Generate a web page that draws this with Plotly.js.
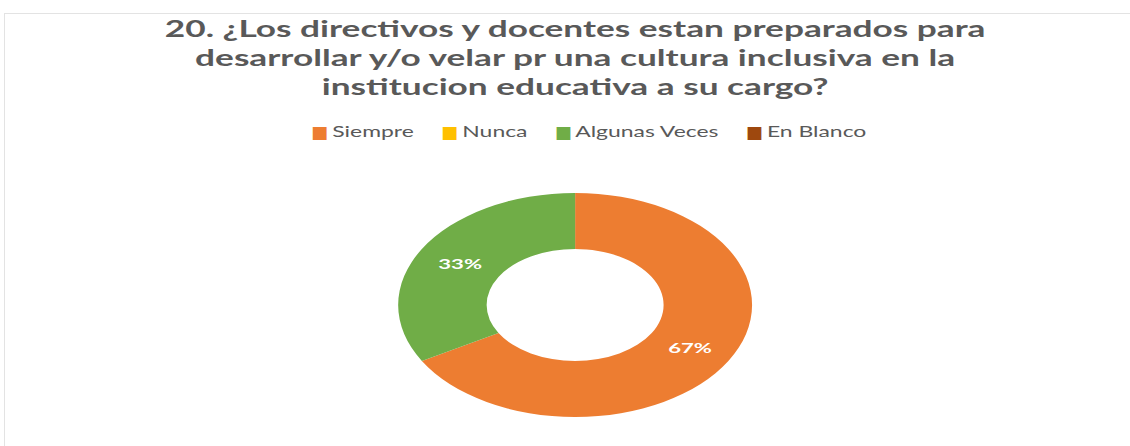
<!DOCTYPE html>
<html>
<head>
<meta charset="utf-8">
<script src="https://cdn.plot.ly/plotly-3.0.1.min.js"></script>
<style>
  html, body { margin: 0; padding: 0; background: #fff; overflow: hidden; width: 1130px; height: 446px; }
  #frame { position: absolute; left: 4px; top: 13px; width: 1400px; height: 600px; border: 1px solid #e3e3e3; }
  #wrap { position: absolute; left: 0; top: 0; width: 728px; height: 446px; transform: scaleX(1.58); transform-origin: 0 0; }
  #chart { width: 728px; height: 446px; }
</style>
</head>
<body>
<div id="frame"></div>
<div id="wrap"><div id="chart"></div></div>
<script>
const categories = ['Siempre', 'Nunca', 'Algunas Veces', 'En Blanco'];
const values = [2, 0, 1, 0];
const colors = ['#ED7D31', '#FFC000', '#70AD47', '#9E480E'];
const titleText = '20. ¿Los directivos y docentes estan preparados para<br>desarrollar y/o velar pr una cultura inclusiva en la<br>institucion educativa a su cargo?';

const templates = values.map(v => v > 0 ? '%{percent:.0%}' : '');

const trace = {
  type: 'pie',
  labels: categories,
  values: values,
  hole: 0.5,
  sort: false,
  direction: 'clockwise',
  rotation: 0,
  marker: { colors: colors, line: { color: '#ffffff', width: 0 } },
  texttemplate: templates,
  textposition: 'inside',
  insidetextorientation: 'horizontal',
  textfont: { color: '#ffffff', size: 14, family: 'Lato, sans-serif', weight: 'bold' },
  domain: { x: [0, 1], y: [1 - 417 / 446, 1 - 193 / 446] },
  hoverinfo: 'label+percent',
  showlegend: false
};

// custom legend built from the category/colour arrays (compact swatch-text spacing)
const legendText = categories.map((c, i) =>
  '<span style="color:' + colors[i] + ';font-size:11px;font-family:DejaVu Sans">█</span> ' + c
).join('\u00a0\u00a0\u00a0\u00a0\u00a0');

const layout = {
  width: 728,
  height: 446,
  margin: { l: 0, r: 0, t: 0, b: 0 },
  paper_bgcolor: 'rgba(0,0,0,0)',
  plot_bgcolor: 'rgba(0,0,0,0)',
  title: {
    text: titleText,
    x: 0.5,
    xanchor: 'center',
    y: 1 - 37 / 446,
    yanchor: 'middle',
    yref: 'container',
    font: { family: 'Lato, sans-serif', size: 22.3, color: '#595959', weight: 'bold' }
  },
  annotations: [{
    text: legendText,
    showarrow: false,
    xref: 'paper', yref: 'paper',
    x: 0.512, xanchor: 'center',
    y: 1 - 132 / 446, yanchor: 'middle',
    font: { family: 'Lato, sans-serif', size: 14.5, color: '#595959' }
  }]
};

Plotly.newPlot('chart', [trace], layout, { displayModeBar: false, staticPlot: true });
</script>
</body>
</html>
